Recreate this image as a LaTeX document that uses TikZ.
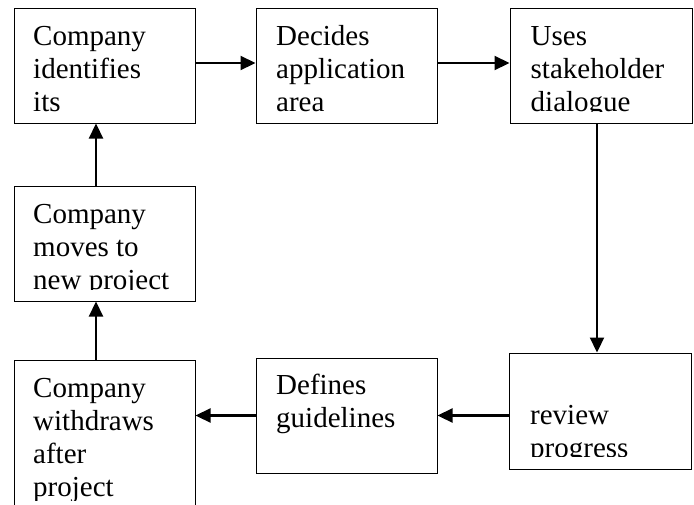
\documentclass[tikz,border=0pt]{standalone}
\usepackage{fontspec}
\setmainfont{Liberation Serif}
\usetikzlibrary{arrows.meta,calc}
\begin{document}
\begin{tikzpicture}[x=1pt,y=-1pt,
  box/.style={draw=black,line width=1pt,inner sep=0pt,minimum width=181pt,minimum height=115pt},
  txt/.style={anchor=base west,inner sep=0pt,font=\fontsize{29pt}{33pt}\selectfont},
  arr/.style={line width=2.2pt,-{Triangle[length=15pt,width=14pt]}}]
\clip (0,0) rectangle (694,504);
\useasboundingbox (0,0) rectangle (694,504);
\fill[white] (0,0) rectangle (694,504);
% boxes
\node[box] (b1) at (104.5,65.5) {};
\node[box] (b2) at (346.5,65.5) {};
\node[box,minimum width=182pt] (b3) at (601,65.5) {};
\node[box] (b4) at (104.5,243.5) {};
\node[box,minimum height=160pt] (b5) at (104.5,440) {};
\node[box] (b6) at (346.5,415.5) {};
\node[box,minimum width=182pt,minimum height=116pt] (b7) at (600,411) {};
% texts (clipped like fixed-size text frames)
\begin{scope}
\clip (14,8) rectangle (195,111.5);
\node[txt] (t1a) at (33,45) {Company};
\node[txt] (t1b) at (33,78) {identifies};
\node[txt] (t1c) at (33,111) {its};
\end{scope}
\begin{scope}
\clip (256,8) rectangle (437,111.5);
\node[txt] (t2a) at (276,45) {Decides};
\node[txt] (t2b) at (276,78) {application};
\node[txt] (t2c) at (276,111) {area};
\end{scope}
\begin{scope}
\clip (510,8) rectangle (692,111.5);
\node[txt] (t3a) at (530.5,45) {Uses};
\node[txt] (t3b) at (530.5,78) {stakeholder};
\node[txt] (t3c) at (530.5,111) {dialogue};
\end{scope}
\begin{scope}
\clip (14,186) rectangle (195,289.3);
\node[txt] (t4a) at (33,223) {Company};
\node[txt] (t4b) at (33,256) {moves to};
\node[txt] (t4c) at (33,289) {new project};
\end{scope}
\begin{scope}
\clip (14,360) rectangle (195,500);
\node[txt] (t5a) at (33,397) {Company};
\node[txt] (t5b) at (33,430) {withdraws};
\node[txt] (t5c) at (33,463) {after};
\node[txt] (t5d) at (33,496.5) {project};
\end{scope}
\begin{scope}
\clip (256,358) rectangle (437,461);
\node[txt] (t6a) at (276,394.5) {Defines};
\node[txt] (t6b) at (276,427.5) {guidelines};
\end{scope}
\begin{scope}
\clip (509,353) rectangle (691,456.8);
\node[txt] (t7a) at (530,424) {review};
\node[txt] (t7b) at (530,457) {progress};
\end{scope}
% connectors
\coordinate (rowy) at (0,63);
\coordinate (c3x) at (597,0);
\coordinate (c1x) at (96,0);
\draw[arr] (b1.east |- rowy) -- (b2.west |- rowy);
\draw[arr] (b2.east |- rowy) -- (b3.west |- rowy);
\draw[arr] (b3.south -| c3x) -- (b7.north -| c3x);
\draw[arr] (b6.east -| b7.west) -- (b6.east);
\draw[arr] (b6.west) -- (b6.west -| b5.east);
\draw[arr] (b5.north -| c1x) -- (b4.south -| c1x);
\draw[arr] (b4.north -| c1x) -- (b1.south -| c1x);
\end{tikzpicture}
\end{document}
